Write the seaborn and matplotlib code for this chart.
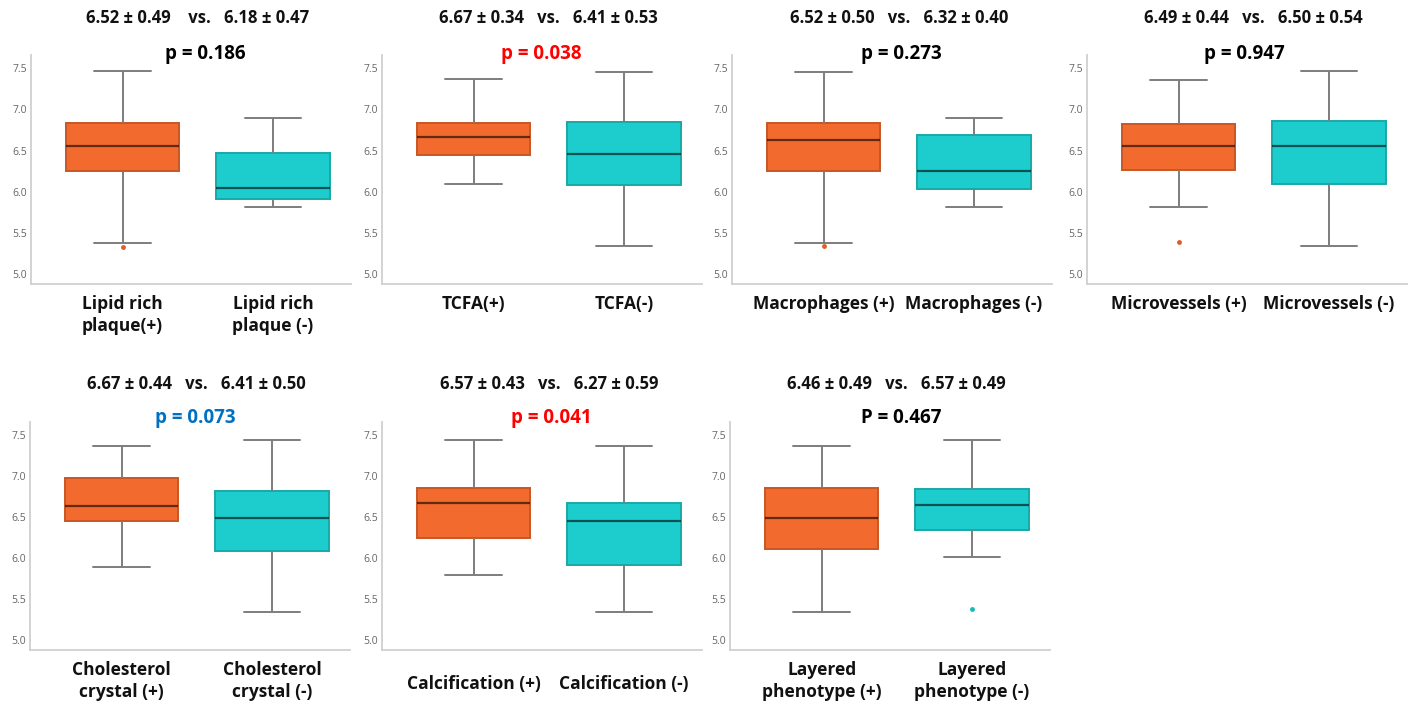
import numpy as np
import pandas as pd
import matplotlib
matplotlib.use("Agg")
import matplotlib.pyplot as plt
import matplotlib.colors as mcolors
import seaborn as sns

# ---------------- data ----------------
pos_labels = ["Lipid rich\nplaque(+)", "TCFA(+)", "Macrophages (+)", "Microvessels (+)",
              "Cholesterol\ncrystal (+)", "Calcification (+)", "Layered\nphenotype (+)"]
neg_labels = ["Lipid rich\nplaque (-)", "TCFA(-)", "Macrophages (-)", "Microvessels (-)",
              "Cholesterol\ncrystal (-)", "Calcification (-)", "Layered\nphenotype (-)"]

# five-number summaries: whisker low, Q1, median, Q3, whisker high
pos_low = [5.38, 6.09, 5.38, 5.82, 5.89, 5.80, 5.34]
pos_q1 = [6.25, 6.45, 6.25, 6.26, 6.45, 6.24, 6.11]
pos_med = [6.56, 6.66, 6.63, 6.55, 6.63, 6.67, 6.49]
pos_q3 = [6.84, 6.83, 6.84, 6.82, 6.98, 6.86, 6.85]
pos_high = [7.46, 7.37, 7.45, 7.36, 7.37, 7.44, 7.37]
pos_out = [5.33, None, 5.34, 5.39, None, None, None]

neg_low = [5.82, 5.34, 5.81, 5.34, 5.34, 5.34, 6.01]
neg_q1 = [5.91, 6.08, 6.03, 6.09, 6.09, 5.92, 6.34]
neg_med = [6.04, 6.46, 6.25, 6.55, 6.49, 6.45, 6.65]
neg_q3 = [6.47, 6.85, 6.69, 6.86, 6.82, 6.67, 6.84]
neg_high = [6.90, 7.45, 6.89, 7.46, 7.44, 7.37, 7.44]
neg_out = [None, None, None, None, None, None, 5.38]

summary_titles = ["6.52 ± 0.49    vs.   6.18 ± 0.47",
                  "6.67 ± 0.34   vs.   6.41 ± 0.53",
                  "6.52 ± 0.50   vs.   6.32 ± 0.40",
                  "6.49 ± 0.44   vs.   6.50 ± 0.54",
                  "6.67 ± 0.44   vs.   6.41 ± 0.50",
                  "6.57 ± 0.43   vs.   6.27 ± 0.59",
                  "6.46 ± 0.49   vs.   6.57 ± 0.49"]
p_texts = ["p = 0.186", "p = 0.038", "p = 0.273", "p = 0.947",
           "p = 0.073", "p = 0.041", "P = 0.467"]
p_colors = ["black", "#FF0000", "black", "black", "#0070C0", "#FF0000", "black"]

yticks = [5.0, 5.5, 6.0, 6.5, 7.0, 7.5]

# ---------------- styling / layout ----------------
ORANGE = "#F26A2D"
CYAN = "#1DCDCD"
W, H = 1416, 709
panel_left = [31, 382, 732, 1087, 30, 382, 730]      # px
panel_top = [55, 55, 55, 55, 422, 422, 422]           # px
panel_bottom = [284, 284, 284, 284, 650, 650, 650]    # px
panel_width = 320
title_y = [18, 18, 18, 18, 384, 384, 384]
p_y = [54, 54, 54, 54, 418, 418, 418]
p_x = [0.55, 0.45, 0.52, 0.44, 0.49, 0.52, 0.53]
label_pad = [8, 8, 8, 8, 8, 18, 8]


def group_values(lo, q1, med, q3, hi, out):
    if out is None:
        return [lo, q1, med, q3, hi]
    return [out, lo, q1, q1, med, q3, q3, hi, hi]


def darker(c, f=0.82):
    r, g, b = mcolors.to_rgb(c)
    return (r * f, g * f, b * f)


sns.set_theme(style="white")
plt.rcParams["font.family"] = ["Open Sans", "DejaVu Sans"]

fig = plt.figure(figsize=(W / 100, H / 100), dpi=100)

for i in range(7):
    l, t, b = panel_left[i], panel_top[i], panel_bottom[i]
    ax = fig.add_axes([l / W, 1 - b / H, panel_width / W, (b - t) / H])

    vals_p = group_values(pos_low[i], pos_q1[i], pos_med[i], pos_q3[i], pos_high[i], pos_out[i])
    vals_n = group_values(neg_low[i], neg_q1[i], neg_med[i], neg_q3[i], neg_high[i], neg_out[i])
    df = pd.DataFrame({
        "group": [pos_labels[i]] * len(vals_p) + [neg_labels[i]] * len(vals_n),
        "value": vals_p + vals_n,
    })
    order = [pos_labels[i], neg_labels[i]]
    sns.boxplot(data=df, x="group", y="value", hue="group", order=order, hue_order=order,
                palette=[ORANGE, CYAN], saturation=1, width=0.755, linecolor="#7d7d7d",
                linewidth=1.4, fliersize=3.5, legend=False, ax=ax,
                medianprops=dict(color="black", alpha=0.6, linewidth=1.6),
                flierprops=dict(marker="o", markeredgewidth=0))

    # box edges in darker tone of each fill
    for patch in ax.patches:
        patch.set_edgecolor(darker(patch.get_facecolor()))
    # fliers coloured like their box
    for ln in ax.lines:
        if ln.get_marker() == "o" and len(ln.get_xdata()) > 0:
            xv = float(np.asarray(ln.get_xdata())[0])
            c = ORANGE if xv < 0.5 else CYAN
            ln.set_markerfacecolor(darker(c, 0.9))
            ln.set_markeredgecolor(darker(c, 0.9))

    ax.set_xlim(-0.61, 1.52)
    ax.set_ylim(4.88, 7.66)
    ax.set_yticks(yticks)
    ax.set_yticklabels([f"{v:.1f}" for v in yticks], fontsize=7.5, color="#666666")
    ax.set_xticks([0, 1])
    ax.set_xticklabels(order, fontsize=12.5, fontweight="bold", color="#111111",
                       linespacing=1.25)
    ax.tick_params(axis="x", length=0, pad=label_pad[i])
    ax.tick_params(axis="y", length=0, pad=3)
    ax.set_xlabel("")
    ax.set_ylabel("")
    for s in ["top", "right"]:
        ax.spines[s].set_visible(False)
    for s in ["left", "bottom"]:
        ax.spines[s].set_color("#d0d0d0")
        ax.spines[s].set_linewidth(1.3)

    # title and p value, positioned in data-x / figure-y
    trans_t = matplotlib.transforms.blended_transform_factory(ax.transData, fig.transFigure)
    ax.text(0.5, 1 - title_y[i] / H, summary_titles[i], transform=trans_t, ha="center",
            va="center", fontsize=12, fontweight="bold", color="#111111")
    ax.text(p_x[i], 1 - p_y[i] / H, p_texts[i], transform=trans_t, ha="center",
            va="center", fontsize=13.5, fontweight="bold", color=p_colors[i])

fig.savefig("out.png", dpi=100)
